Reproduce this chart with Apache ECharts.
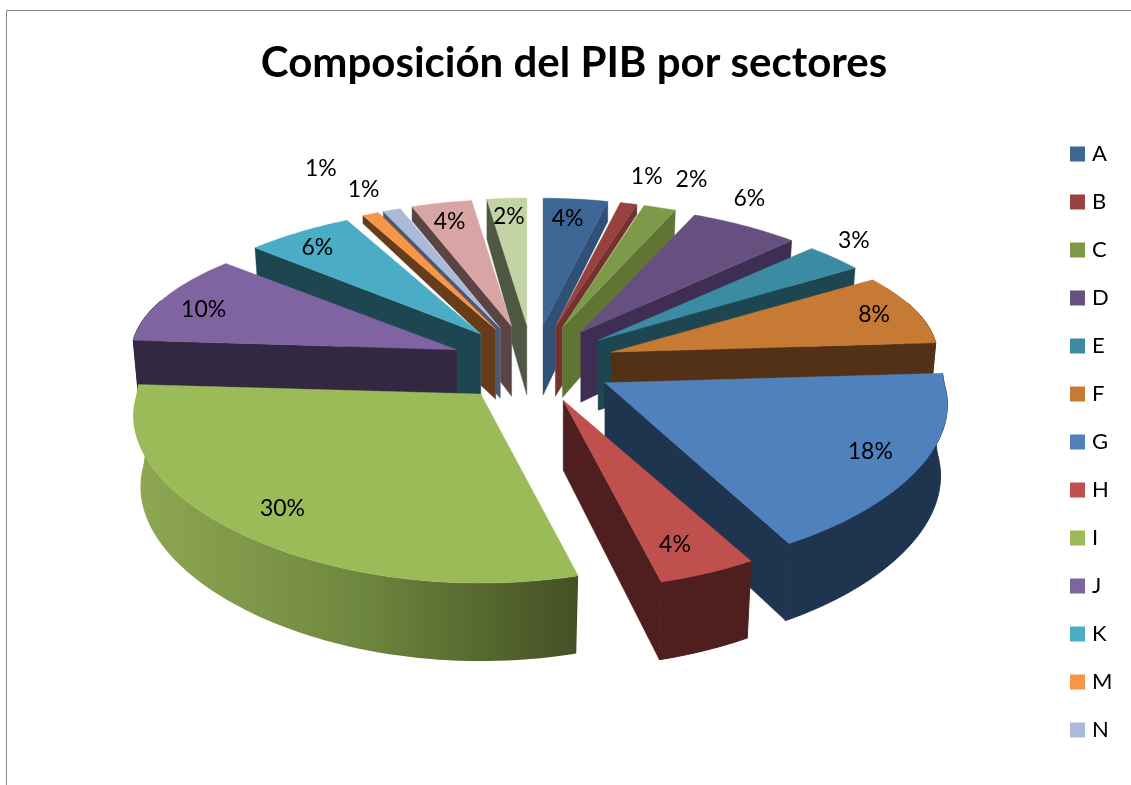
<!DOCTYPE html>
<html><head><meta charset="utf-8">
<style>html,body{margin:0;padding:0;background:#fff}#c{width:1131px;height:785px}</style>
<script src="https://cdn.jsdelivr.net/npm/echarts@6/dist/echarts.min.js"></script>
</head><body><div id="c"></div>
<script>
const titleText = 'Composición del PIB por sectores';
const categories = ['A','B','C','D','E','F','G','H','I','J','K','M','N','O','P'];
const values = [3.9,1.0,1.9,6.2,3.2,7.8,18,4,30,10,6,0.95,1.05,3.6,2.4];
const legendNames = ['A','B','C','D','E','F','G','H','I','J','K','M','N'];

const topColors = ['#3d6695','#984240','#7d9a48','#67507f','#3b8ba2','#c77a33','#4f81bd','#c0504d','#9bbb59','#8064a2','#4bacc6','#f79646','#aabad7','#d9a5a4','#c3d3a5'];
const wallColors = ['#2f5077','#733230','#5f7533','#3f2e54','#1d4651','#533116','#1f344f','#4f1f1f','#6f8840','#332841','#1d4651','#673c1a','#4f5a72','#5a4544','#4f5843'];
const paintOrder = ['A','B','C','D','E','F','G','H','P','O','N','M','K','J','I'];
const labelRadius = [.84,1.31,1.34,1.27,1.19,.89,.87,.86,.86,.87,.87,1.54,1.26,.85,.86];
const labelTurn = [-1,0,1,-5.5,-3,0,0,1,0,-2,-1,0,-1,0,0];
const wallCut = [20,10,0,0,0,0,0,0,0,0,0,8,8,14,40];

const cx = 533, cy = 364, explodeX = 82, explodeY = 39;
const A = 331, KX = .15, KG = .05, B = 152, KY = .196;
const total = values.reduce((s, v) => s + v, 0);
const starts = []; values.reduce((s, v, i) => (starts[i] = s, s + v), 0);
const rad = d => d * Math.PI / 180;
const ang = p => p / total * 360;
const midOf = i => rad(ang(starts[i] + values[i] / 2));
function apexOf(i) {
  const m = midOf(i);
  return [cx + explodeX * Math.sin(m), cy - explodeY * Math.cos(m)];
}
function local(i, deg, r) {
  const ap = apexOf(i), X = r * Math.sin(rad(deg)), Y = r * Math.cos(rad(deg));
  const shrink = Y > 0 ? KX * Math.pow(Y, 1.5) : KX * Y;
  return [ap[0] + A * X * (1 - shrink - KG * Math.cos(midOf(i))), ap[1] - B * Y / (1 + KY * Y)];
}
function lower(i, deg, r) {
  const p = local(i, deg, r), Y = r * Math.cos(rad(deg)), ap = apexOf(i);
  const d = Y < 0 ? 70 - 8 * Y : 70 - 10 * Y;
  return [ap[0] + (p[0] - ap[0]) * .98, p[1] + d];
}
function labelAt(i, deg, r) {
  const ap = apexOf(i), X = r * Math.sin(rad(deg)), Y = r * Math.cos(rad(deg));
  return [ap[0] + 325 * X * (1 - .17 * Y), ap[1] - 149.5 * Y / (1 + KY * Y)];
}
function arc(i, d0, d1, fn) {
  const n = Math.max(2, Math.ceil(Math.abs(d1 - d0) / 1.5)), out = [];
  for (let k = 0; k <= n; k++) out.push(fn(i, d0 + (d1 - d0) * k / n, 1));
  return out;
}
function sideWall(i, deg, neighbor) {
  const top0 = local(i, deg, 0), top1 = local(i, deg, 1);
  const bot0 = lower(i, deg, 0), bot1 = lower(i, deg, 1);
  const cut = wallCut[i];
  if (!cut || neighbor < 0 || neighbor >= values.length) return [top0, top1, bot1, bot0];
  const nA = local(neighbor, 0, 0);
  const t = (nA[0] - bot0[0]) / (bot1[0] - bot0[0]);
  const onEdge = [nA[0], bot0[1] + (bot1[1] - bot0[1]) * t];
  return [top0, top1, [top1[0], top1[1] + cut], nA, onEdge, bot0];
}
function renderSlice(i) {
  const d0 = ang(starts[i]), d1 = ang(starts[i] + values[i]);
  const kids = [];
  const isI = categories[i] === 'I';
  const wallFill = isI
    ? new echarts.graphic.LinearGradient(0, 0, 1, 0, [
        {offset: 0, color: '#8fa853'}, {offset: .5, color: '#6f883f'}, {offset: 1, color: '#445024'}])
    : wallColors[i];
  if (d1 < 180) kids.push({type: 'polygon', shape: {points: sideWall(i, d1, i + 1)}, style: {fill: wallColors[i], stroke: wallColors[i], lineWidth: .4}});
  if (d0 > 180) kids.push({type: 'polygon', shape: {points: sideWall(i, d0, i - 1)}, style: {fill: wallColors[i], stroke: wallColors[i], lineWidth: .4}});
  const a0 = Math.max(d0, 70), a1 = Math.min(d1, 290);
  if (a1 > a0) {
    kids.push({type: 'polygon', shape: {points: arc(i, a0, a1, local).concat(arc(i, a1, a0, lower))},
      style: isI ? {fill: wallFill} : {fill: wallFill, stroke: wallColors[i], lineWidth: 1}});
  }
  const topPts = [local(i, 0, 0)].concat(arc(i, d0, d1, local));
  kids.push({type: 'polygon', shape: {points: topPts}, style: {fill: topColors[i], stroke: topColors[i], lineWidth: .4}});
  const lp = labelAt(i, (d0 + d1) / 2 + labelTurn[i], labelRadius[i]);
  kids.push({type: 'text', z2: 50, style: {text: Math.round(values[i]) + '%', x: lp[0], y: lp[1] + 1, align: 'center', verticalAlign: 'middle', fill: '#000', font: '23px Lato'}});
  return {type: 'group', children: kids};
}
const series = categories.map((name, i) => ({
  type: 'custom', name, coordinateSystem: 'none', silent: true,
  z: 2 + paintOrder.indexOf(name),
  itemStyle: {color: topColors[i]},
  data: [values[i]],
  renderItem: () => renderSlice(i)
}));
const chart = echarts.init(document.getElementById('c'), null, {renderer: 'canvas'});
chart.setOption({
  animation: false,
  backgroundColor: '#fff',
  title: {text: titleText, left: 569, top: 37, textAlign: 'center',
    textStyle: {fontFamily: 'Lato', fontWeight: 'bold', fontSize: 42, color: '#000'}},
  legend: {data: legendNames, orient: 'vertical', left: 1065, top: 138, icon: 'rect',
    itemWidth: 15, itemHeight: 15, itemGap: 26, selectedMode: false,
    textStyle: {fontFamily: 'Lato', fontSize: 22, color: '#000', lineHeight: 22, padding: [0,0,0,2]}},
  graphic: [{type: 'rect', shape: {x: 6.5, y: 10.5, width: 1300, height: 900}, style: {fill: 'none', stroke: '#868686', lineWidth: 1}}],
  series
});
</script></body></html>
